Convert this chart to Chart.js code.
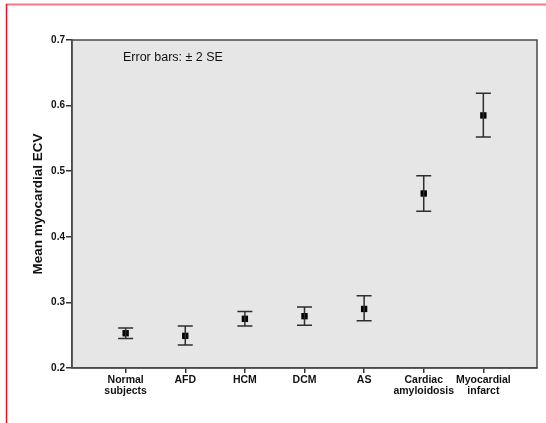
<!DOCTYPE html>
<html>
<head>
<meta charset="utf-8">
<script src="https://cdn.jsdelivr.net/npm/chart.js@4"></script>
<style>
  html, body { margin: 0; padding: 0; background: #fff; }
  #wrap { position: relative; width: 546px; height: 423px; }
</style>
</head>
<body>
<div id="wrap"><canvas id="grafico"></canvas></div>
<script>
// dados
const categories = [['Normal', 'subjects'], 'AFD', 'HCM', 'DCM', 'AS', ['Cardiac', 'amyloidosis'], ['Myocardial', 'infarct']];
const meanEcv = [0.253, 0.249, 0.275, 0.279, 0.290, 0.466, 0.585];
const lowerEcv = [0.245, 0.235, 0.264, 0.265, 0.272, 0.439, 0.552];
const upperEcv = [0.261, 0.264, 0.286, 0.293, 0.310, 0.493, 0.619];
const yTicks = [0.2, 0.3, 0.4, 0.5, 0.6, 0.7];

const font = 'Liberation Sans, Arial, sans-serif';

// fundo cinza, moldura, barras de erro e texto
const extras = {
  id: 'extras',
  beforeDraw(chart) {
    const { ctx, chartArea: a } = chart;
    ctx.save();
    ctx.fillStyle = '#e6e6e6';
    ctx.fillRect(a.left, a.top, a.right - a.left, a.bottom - a.top);
    ctx.restore();
  },
  afterDatasetsDraw(chart) {
    const { ctx, scales } = chart;
    const x = scales.x, y = scales.y;
    ctx.save();
    ctx.strokeStyle = '#2e2e2e';
    ctx.lineWidth = 1.5;
    meanEcv.forEach((m, i) => {
      const px = x.getPixelForValue(i + 1);
      const top = y.getPixelForValue(upperEcv[i]);
      const bot = y.getPixelForValue(lowerEcv[i]);
      ctx.beginPath();
      ctx.moveTo(px, top); ctx.lineTo(px, bot);
      ctx.moveTo(px - 7.5, top); ctx.lineTo(px + 7.5, top);
      ctx.moveTo(px - 7.5, bot); ctx.lineTo(px + 7.5, bot);
      ctx.stroke();
    });
    ctx.restore();
  },
  afterDraw(chart) {
    const { ctx, chartArea: a } = chart;
    ctx.save();
    ctx.strokeStyle = '#4a4a4a';
    ctx.lineWidth = 1.5;
    ctx.strokeRect(a.left, a.top, a.right - a.left, a.bottom - a.top);

    ctx.fillStyle = '#111';
    ctx.font = '12.5px ' + font;
    ctx.textBaseline = 'middle';
    ctx.fillText('Error bars: \u00b1 2 SE', 123, 58);

    // moldura vermelha
    ctx.lineWidth = 2;
    ctx.strokeStyle = '#f27b8b';
    ctx.beginPath(); ctx.moveTo(6, 4.5); ctx.lineTo(546, 4.5); ctx.stroke();
    ctx.strokeStyle = '#e8142f';
    ctx.lineWidth = 1.5;
    ctx.beginPath(); ctx.moveTo(6.5, 4); ctx.lineTo(6.5, 423); ctx.stroke();
    ctx.restore();
  }
};

const ctx = document.getElementById('grafico').getContext('2d');
const chart = new Chart(ctx, {
  type: 'scatter',
  data: {
    datasets: [{
      label: 'Mean ECV',
      data: meanEcv.map((v, i) => ({ x: i + 1, y: v })),
      pointStyle: 'rect',
      pointRadius: 4.5,
      pointHoverRadius: 4.5,
      backgroundColor: '#000',
      borderColor: '#000',
      borderWidth: 0
    }]
  },
  options: {
    responsive: true,
    maintainAspectRatio: false,
    animation: false,
    devicePixelRatio: 1,
    layout: { padding: { top: 40, right: 9, left: 26, bottom: 0 } },
    plugins: {
      legend: { display: false },
      tooltip: { enabled: false }
    },
    scales: {
      x: {
        type: 'linear',
        min: 0.1,
        max: 7.9,
        afterBuildTicks: s => { s.ticks = categories.map((c, i) => ({ value: i + 1 })); },
        afterFit: s => { s.height = 55; },
        grid: { drawOnChartArea: false, drawTicks: true, tickLength: 5, color: '#333', lineWidth: 1.5 },
        border: { display: true, color: '#4a4a4a', width: 1.5 },
        ticks: {
          autoSkip: false,
          maxRotation: 0,
          padding: 2,
          color: '#111',
          font: { family: font, size: 10.5, weight: 'bold', lineHeight: 1.05 },
          callback: v => categories[v - 1]
        }
      },
      y: {
        min: 0.2,
        max: 0.7,
        afterBuildTicks: s => { s.ticks = yTicks.map(v => ({ value: v })); },
        afterFit: s => { s.width = 46; },
        grid: { drawOnChartArea: false, drawTicks: true, tickLength: 6, color: '#333', lineWidth: 1.5 },
        border: { display: true, color: '#4a4a4a', width: 1.5 },
        title: {
          display: true,
          text: 'Mean myocardial ECV',
          color: '#111',
          padding: { top: 4, bottom: 0 },
          font: { family: font, size: 13.5, weight: 'bold' }
        },
        ticks: {
          padding: 1,
          color: '#111',
          font: { family: font, size: 10, weight: 'bold' },
          callback: v => v.toFixed(1)
        }
      }
    }
  },
  plugins: [extras]
});
</script>
</body>
</html>
